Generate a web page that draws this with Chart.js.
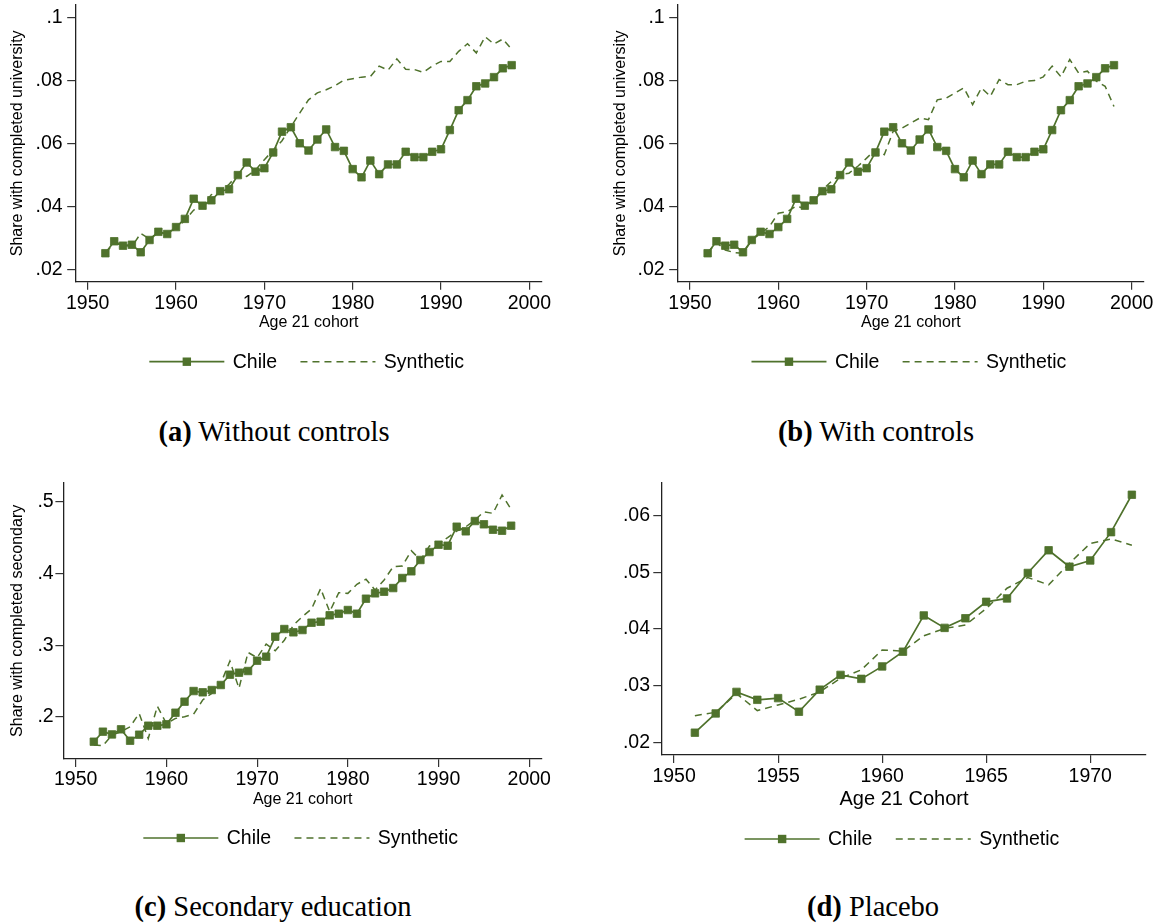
<!DOCTYPE html>
<html>
<head>
<meta charset="utf-8">
<script src="https://cdn.jsdelivr.net/npm/chart.js@4.4.0/dist/chart.umd.min.js"></script>
<style>
  body { margin: 0; background: #fff; width: 1163px; height: 924px; position: relative; overflow: hidden; }
  canvas { position: absolute; }
  .cap {
    position: absolute;
    font-family: "Liberation Serif", "Times New Roman", serif;
    font-size: 28.5px;
    color: #000;
    white-space: nowrap;
    transform: translate(-50%, -50%);
  }
</style>
</head>
<body>
<canvas id="chartA" width="585" height="390" style="left:0;top:0"></canvas>
<canvas id="chartB" width="563" height="390" style="left:600px;top:0"></canvas>
<canvas id="chartC" width="585" height="390" style="left:0;top:470px"></canvas>
<canvas id="chartD" width="563" height="390" style="left:600px;top:470px"></canvas>

<div class="cap" style="left:274px;top:432px"><b>(a)</b> Without controls</div>
<div class="cap" style="left:876px;top:432px"><b>(b)</b> With controls</div>
<div class="cap" style="left:273px;top:907px"><b>(c)</b> Secondary education</div>
<div class="cap" style="left:873px;top:907px"><b>(d)</b> Placebo</div>

<script>
const GREEN = "#4f722c";
const SANS = "'Liberation Sans', Arial, Helvetica, sans-serif";

const seriesNames = ["Chile", "Synthetic"];

const cohortYears = [1952, 1953, 1954, 1955, 1956, 1957, 1958, 1959, 1960, 1961,
  1962, 1963, 1964, 1965, 1966, 1967, 1968, 1969, 1970, 1971,
  1972, 1973, 1974, 1975, 1976, 1977, 1978, 1979, 1980, 1981,
  1982, 1983, 1984, 1985, 1986, 1987, 1988, 1989, 1990, 1991,
  1992, 1993, 1994, 1995, 1996, 1997, 1998];

const chileUniversity = [0.0251, 0.0289, 0.0275, 0.0278, 0.0254, 0.0293, 0.0319, 0.0312, 0.0334, 0.0360,
  0.0424, 0.0402, 0.0419, 0.0448, 0.0454, 0.0499, 0.0539, 0.0510, 0.0521, 0.0571,
  0.0637, 0.0651, 0.0600, 0.0577, 0.0612, 0.0644, 0.0588, 0.0576, 0.0518, 0.0492,
  0.0545, 0.0502, 0.0533, 0.0533, 0.0573, 0.0556, 0.0556, 0.0573, 0.0581, 0.0642,
  0.0705, 0.0737, 0.0781, 0.0790, 0.0810, 0.0838, 0.0848];

const synthUniversityNoControls = [0.0252, 0.0283, 0.0276, 0.0272, 0.0314, 0.0296, 0.0318, 0.0312, 0.0330, 0.0355,
  0.0388, 0.0400, 0.0437, 0.0445, 0.0470, 0.0500, 0.0495, 0.0515, 0.0548, 0.0578,
  0.0608, 0.0652, 0.0696, 0.0738, 0.0760, 0.0770, 0.0783, 0.0800, 0.0805, 0.0810,
  0.0812, 0.0845, 0.0832, 0.0868, 0.0835, 0.0834, 0.0825, 0.0845, 0.0860, 0.0860,
  0.0892, 0.0916, 0.0887, 0.0938, 0.0915, 0.0931, 0.0898];

const synthUniversityControls = [0.0252, 0.0285, 0.0261, 0.0253, 0.0251, 0.0293, 0.0314, 0.0336, 0.0378, 0.0383,
  0.0400, 0.0394, 0.0420, 0.0452, 0.0479, 0.0500, 0.0505, 0.0527, 0.0553, 0.0580,
  0.0564, 0.0638, 0.0648, 0.0664, 0.0680, 0.0675, 0.0738, 0.0743, 0.0760, 0.0776,
  0.0723, 0.0776, 0.0749, 0.0802, 0.0786, 0.0786, 0.0797, 0.0799, 0.0811, 0.0845,
  0.0811, 0.0866, 0.0823, 0.0829, 0.0797, 0.0781, 0.0717];

const chileSecondary = [0.1656, 0.1796, 0.1758, 0.1828, 0.1670, 0.1754, 0.1879, 0.1879, 0.1898, 0.2060,
  0.2214, 0.2362, 0.2344, 0.2376, 0.2446, 0.2590, 0.2618, 0.2641, 0.2785, 0.2841,
  0.3119, 0.3226, 0.3180, 0.3212, 0.3314, 0.3328, 0.3417, 0.3440, 0.3491, 0.3440,
  0.3649, 0.3723, 0.3746, 0.3797, 0.3937, 0.4030, 0.4188, 0.4299, 0.4401, 0.4387,
  0.4652, 0.4587, 0.4731, 0.4685, 0.4610, 0.4596, 0.4666];

const synthSecondary = [0.1610, 0.1600, 0.1750, 0.1796, 0.1865, 0.2050, 0.1700, 0.2150, 0.1910, 0.1980,
  0.2005, 0.2040, 0.2237, 0.2330, 0.2470, 0.2780, 0.2400, 0.2900, 0.2827, 0.3017,
  0.2924, 0.3070, 0.3280, 0.3400, 0.3505, 0.3790, 0.3468, 0.3732, 0.3723, 0.3850,
  0.3920, 0.3770, 0.3910, 0.4095, 0.4104, 0.4318, 0.4188, 0.4383, 0.4420, 0.4500,
  0.4590, 0.4650, 0.4745, 0.4860, 0.4838, 0.5093, 0.4894];

const placeboYears = [1951, 1952, 1953, 1954, 1955, 1956, 1957, 1958, 1959, 1960, 1961,
  1962, 1963, 1964, 1965, 1966, 1967, 1968, 1969, 1970, 1971, 1972];

const chilePlacebo = [0.0217, 0.0251, 0.0289, 0.0275, 0.0278, 0.0254, 0.0293, 0.0319, 0.0312, 0.0334, 0.0360,
  0.0424, 0.0402, 0.0419, 0.0448, 0.0454, 0.0499, 0.0539, 0.0510, 0.0521, 0.0571, 0.0637];

const synthPlacebo = [0.0247, 0.0253, 0.0286, 0.0256, 0.0266, 0.0276, 0.0289, 0.0313, 0.0328, 0.0363, 0.0361,
  0.0388, 0.0401, 0.0407, 0.0436, 0.0472, 0.0491, 0.0478, 0.0516, 0.0551, 0.0559, 0.0548];

const cohortTicks = [1950, 1960, 1970, 1980, 1990, 2000];
const placeboYearTicks = [1950, 1955, 1960, 1965, 1970];
const universityTicks = [0.02, 0.04, 0.06, 0.08, 0.1];
const secondaryTicks = [0.2, 0.3, 0.4, 0.5];
const placeboTicks = [0.02, 0.03, 0.04, 0.05, 0.06];


function points(xs, ys) {
  return xs.map((x, i) => ({ x: x, y: ys[i] }));
}

// stata style: drop the leading zero
function shortNum(v) {
  return String(+v.toFixed(2)).replace(/^0\./, ".");
}

// legend: solid line with square marker, dashed line
const stataLegend = {
  id: "stataLegend",
  afterDraw(chart, args, opts) {
    const ctx = chart.ctx;
    const ds = chart.data.datasets;
    const area = chart.chartArea;
    const lineLen = 75, gapText = 8.4, gapItem = 23.3;

    ctx.save();
    ctx.font = opts.size + "px " + SANS;
    const w0 = ctx.measureText(ds[0].label).width;
    const w1 = ctx.measureText(ds[1].label).width;
    const total = lineLen + gapText + w0 + gapItem + lineLen + gapText + w1;
    let x = (area.left + area.right) / 2 - 2 - total / 2;
    const y = opts.y;

    ctx.strokeStyle = GREEN;
    ctx.fillStyle = GREEN;
    ctx.lineWidth = 1.7;
    ctx.beginPath();
    ctx.moveTo(x, y);
    ctx.lineTo(x + lineLen, y);
    ctx.stroke();
    ctx.fillRect(x + lineLen / 2 - 4.2, y - 4.2, 8.4, 8.4);

    ctx.fillStyle = "#000";
    ctx.textBaseline = "middle";
    ctx.textAlign = "left";
    x += lineLen + gapText;
    ctx.fillText(ds[0].label, x, y + 1);
    x += w0 + gapItem;

    ctx.lineWidth = 1.5;
    ctx.setLineDash([7, 5]);
    ctx.beginPath();
    ctx.moveTo(x, y);
    ctx.lineTo(x + lineLen, y);
    ctx.stroke();
    ctx.setLineDash([]);
    x += lineLen + gapText;
    ctx.fillText(ds[1].label, x, y + 1);
    ctx.restore();
  }
};


function makeChart(id, c) {
  const axisGrid = (tl) => ({
    display: true,
    drawOnChartArea: false,
    drawTicks: true,
    tickLength: tl,
    color: "#333",
    lineWidth: 1.2
  });
  const axisBorder = { display: true, color: "#222", width: 1.3 };

  return new Chart(document.getElementById(id), {
    type: "line",
    data: {
      datasets: [
        {
          label: seriesNames[0],
          data: points(c.xs, c.chile),
          borderColor: GREEN,
          backgroundColor: GREEN,
          borderWidth: 1.7,
          pointStyle: "rect",
          pointRadius: 5.3,
          pointHoverRadius: 5.3,
          pointBorderWidth: 0.8,
          pointBackgroundColor: GREEN,
          tension: 0
        },
        {
          label: seriesNames[1],
          data: points(c.xs, c.synth),
          borderColor: GREEN,
          borderWidth: 1.5,
          borderDash: [7, 5],
          pointRadius: 0,
          tension: 0
        }
      ]
    },
    options: {
      responsive: false,
      animation: false,
      devicePixelRatio: 1,
      layout: { autoPadding: false, padding: c.pad },
      plugins: {
        legend: { display: false },
        tooltip: { enabled: false },
        stataLegend: { y: c.legendY, size: 19.5 }
      },
      scales: {
        x: {
          type: "linear",
          min: c.xMin,
          max: c.xMax,
          afterBuildTicks: s => { s.ticks = c.xTicks.map(v => ({ value: v })); },
          afterFit: s => { s.height = c.xH; s.paddingLeft = 0; s.paddingRight = 0; },
          grid: axisGrid(8),
          border: axisBorder,
          ticks: {
            autoSkip: false,
            maxRotation: 0,
            padding: c.xPad,
            color: "#000",
            font: { family: SANS, size: 19.5 },
            callback: v => String(v)
          },
          title: {
            display: true,
            text: c.xTitle,
            color: "#000",
            font: { family: SANS, size: c.xTitleSize },
            padding: { top: 0, bottom: 0 }
          }
        },
        y: {
          type: "linear",
          min: c.yMin,
          max: c.yMax,
          afterBuildTicks: s => { s.ticks = c.yTicks.map(v => ({ value: v })); },
          afterFit: s => { s.width = c.yW; s.paddingTop = 0; s.paddingBottom = 0; },
          grid: axisGrid(c.yTl),
          border: axisBorder,
          ticks: {
            autoSkip: false,
            padding: c.yPad,
            color: "#000",
            font: { family: SANS, size: 19.5 },
            callback: v => shortNum(v)
          },
          title: {
            display: !!c.yTitle,
            text: c.yTitle || "",
            color: "#000",
            font: { family: SANS, size: 16 },
            padding: { top: c.yTitlePad, bottom: 0 }
          }
        }
      }
    },
    plugins: [stataLegend]
  });
}


makeChart("chartA", {
  xs: cohortYears, chile: chileUniversity, synth: synthUniversityNoControls,
  xMin: 1948.64, xMax: 2001.4, yMin: 0.01606, yMax: 0.1039,
  xTicks: cohortTicks, yTicks: universityTicks,
  pad: { left: 0, top: 5, right: 43.3, bottom: 58.3 },
  xH: 50, yW: 75.7, xPad: 2.6, yPad: 4.5, yTl: 8.5,
  xTitle: "Age 21 cohort", xTitleSize: 16,
  yTitle: "Share with completed university", yTitlePad: 8.4,
  legendY: 361.7
});

makeChart("chartB", {
  xs: cohortYears, chile: chileUniversity, synth: synthUniversityControls,
  xMin: 1948.61, xMax: 2001.4, yMin: 0.01606, yMax: 0.1039,
  xTicks: cohortTicks, yTicks: universityTicks,
  pad: { left: 0, top: 5, right: 19, bottom: 58.3 },
  xH: 50, yW: 77.7, xPad: 2.6, yPad: 4.5, yTl: 8.5,
  xTitle: "Age 21 cohort", xTitleSize: 16,
  yTitle: "Share with completed university", yTitlePad: 11.4,
  legendY: 361.7
});

makeChart("chartC", {
  xs: cohortYears, chile: chileSecondary, synth: synthSecondary,
  xMin: 1948.68, xMax: 2001.37, yMin: 0.1415, yMax: 0.5265,
  xTicks: cohortTicks, yTicks: secondaryTicks,
  pad: { left: 0, top: 12.7, right: 43.3, bottom: 50.4 },
  xH: 50.6, yW: 63.7, xPad: 1.3, yPad: 1.7, yTl: 8.3,
  xTitle: "Age 21 cohort", xTitleSize: 16,
  yTitle: "Share with completed secondary", yTitlePad: 8.4,
  legendY: 368
});

makeChart("chartD", {
  xs: placeboYears, chile: chilePlacebo, synth: synthPlacebo,
  xMin: 1949.42, xMax: 1972.68, yMin: 0.01776, yMax: 0.06583,
  xTicks: placeboYearTicks, yTicks: placeboTicks,
  pad: { left: 0, top: 12.7, right: 17, bottom: 49 },
  xH: 56, yW: 62, xPad: 2, yPad: 3.3, yTl: 8.7,
  xTitle: "Age 21 Cohort", xTitleSize: 20,
  yTitle: null, yTitlePad: 0,
  legendY: 369
});
</script>
</body>
</html>
